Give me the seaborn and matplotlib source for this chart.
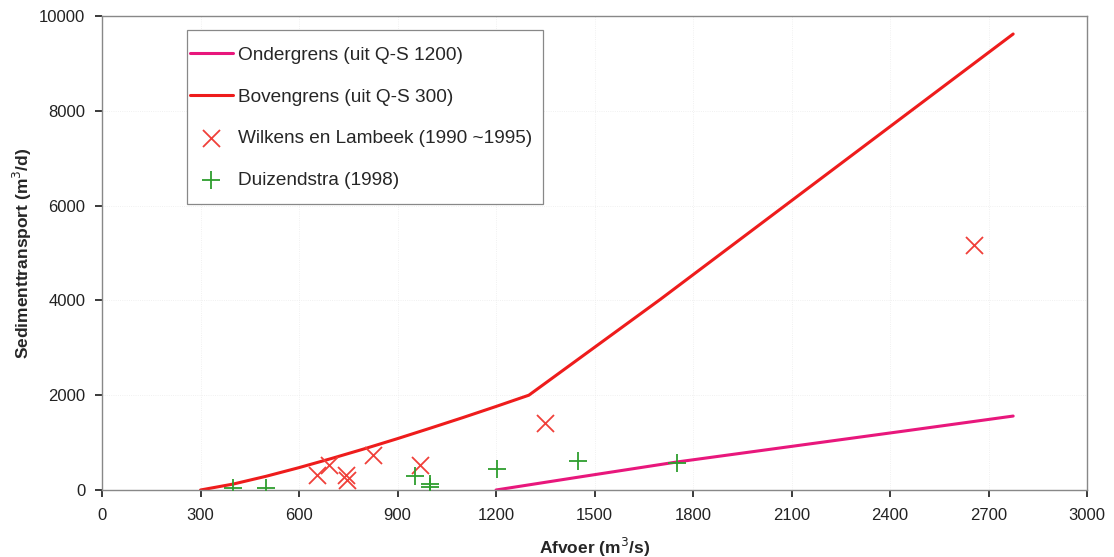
import matplotlib
matplotlib.use("Agg")
import matplotlib.pyplot as plt
from matplotlib.patches import Rectangle
import seaborn as sns
import pandas as pd

# Lower bound curve (from Q-S 1200)
onder_q = [1200, 1450, 1750, 2100, 2450, 2775]
onder_s = [0, 270, 590, 920, 1250, 1560]

# Upper bound curve (from Q-S 300)
boven_q = [300, 400, 500, 600, 700, 800, 900, 1000, 1100, 1200, 1300, 1700, 2775]
boven_s = [0, 126, 290, 472, 667, 871, 1084, 1305, 1530, 1762, 2000, 4020, 9620]

# Measurements Wilkens en Lambeek (1990-1995)
wilkens_q = [654, 690, 742, 745, 824, 969, 1349, 2656]
wilkens_s = [316, 527, 316, 211, 738, 527, 1420, 5169]

# Measurements Duizendstra (1998)
duiz_q = [400, 500, 953, 1000, 1000, 1202, 1451, 1750]
duiz_s = [36, 36, 295, 130, 60, 437, 612, 563]

x_ticks = [0, 300, 600, 900, 1200, 1500, 1800, 2100, 2400, 2700, 3000]
y_ticks = [0, 2000, 4000, 6000, 8000, 10000]

sns.set_theme(style="white")
plt.rcParams["font.family"] = ["Liberation Sans", "DejaVu Sans"]

fig = plt.figure(figsize=(11.14, 5.57), dpi=100)
ax = fig.add_axes([0.0916, 0.1203, 0.9758 - 0.0916, 0.9713 - 0.1203])

onder = pd.DataFrame({"q": onder_q, "s": onder_s})
boven = pd.DataFrame({"q": boven_q, "s": boven_s})
wilk = pd.DataFrame({"q": wilkens_q, "s": wilkens_s})
duiz = pd.DataFrame({"q": duiz_q, "s": duiz_s})

sns.lineplot(data=onder, x="q", y="s", ax=ax, color="#E8177C", linewidth=2.2,
             label="Ondergrens (uit Q-S 1200)", sort=False)
sns.lineplot(data=boven, x="q", y="s", ax=ax, color="#EE1C1C", linewidth=2.2,
             label="Bovengrens (uit Q-S 300)", sort=False)
sns.scatterplot(data=wilk, x="q", y="s", ax=ax, marker="x", color="#F0403A",
                s=150, linewidth=1.3, label="Wilkens en Lambeek (1990 ~1995)", zorder=4)
sns.scatterplot(data=duiz, x="q", y="s", ax=ax, marker="+", color="#2E9E2E",
                s=170, linewidth=1.3, label="Duizendstra (1998)", zorder=4)

ax.set_xlim(0, 3000)
ax.set_ylim(0, 10000)
ax.set_xticks(x_ticks)
ax.set_yticks(y_ticks)
ax.tick_params(axis="both", labelsize=12, colors="#222222", length=5,
               direction="out", bottom=True, left=True)
ax.tick_params(axis="x", pad=8)
ax.tick_params(axis="y", pad=7)
ax.grid(True, color="#ececec", linewidth=0.6, linestyle=":")

for sp in ax.spines.values():
    sp.set_color("#888888")
    sp.set_linewidth(1.0)

ax.set_xlabel("Afvoer (m$^3$/s)", fontsize=12.5, fontweight="bold", labelpad=9)
ax.set_ylabel("Sedimenttransport (m$^3$/d)", fontsize=12.5, fontweight="bold", labelpad=4)

# Legend content without its own frame; a frame with wider vertical padding is drawn behind it
leg = ax.legend(loc="upper left", bbox_to_anchor=(0.0893, 0.936), borderaxespad=0,
                fontsize=13.7, labelspacing=1.29, handlelength=2.25, handletextpad=0.27,
                borderpad=0.0, frameon=False)

fig.canvas.draw()
bb = leg.get_window_extent().transformed(fig.transFigure.inverted())
px_w, px_h = 1.0 / fig.bbox.width, 1.0 / fig.bbox.height
pad_l, pad_r, pad_t, pad_b = 3 * px_w, 11 * px_w, 16 * px_h, 15 * px_h
frame = Rectangle((bb.x0 - pad_l, bb.y0 - pad_b), bb.width + pad_l + pad_r,
                  bb.height + pad_t + pad_b, transform=fig.transFigure,
                  facecolor="white", edgecolor="#888888", linewidth=0.9, zorder=5)
leg.remove()
leg.set_zorder(6)
fig.add_artist(frame)
fig.add_artist(leg)

fig.savefig("out.png", dpi=100)
